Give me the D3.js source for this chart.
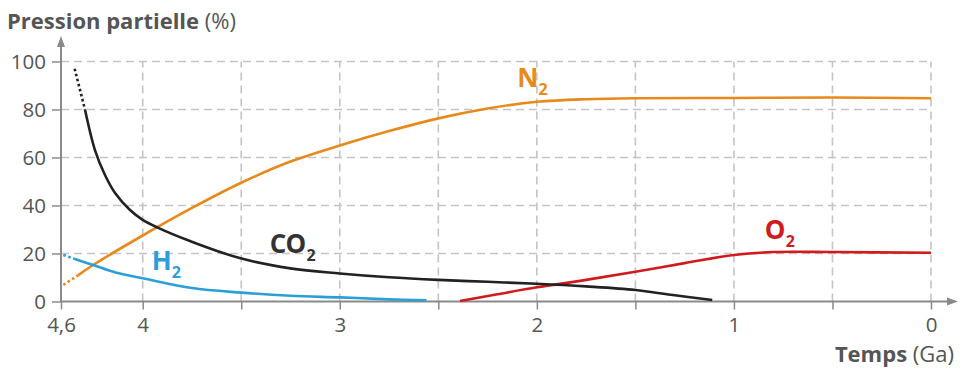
<!DOCTYPE html>
<html><head><meta charset="utf-8">
<script src="https://cdn.jsdelivr.net/npm/d3@7/dist/d3.min.js"></script>
<style>
html,body{margin:0;padding:0;background:#fff;}
svg{display:block;font-family:"Open Sans",sans-serif;}
</style></head>
<body><svg id="c" width="971" height="379"></svg>
<script>
// ---- data (time in Ga, partial pressure in %) ----
const yTicks = [0, 20, 40, 60, 80, 100];
const xTicks = [4.6, 4, 3.5, 3, 2.5, 2, 1.5, 1, 0.5, 0];
const xLabelTicks = [4.6, 4, 3, 2, 1, 0];
const gridX = [4, 3.5, 3, 2.5, 2, 1.5, 1, 0.5, 0];
const gridY = [20, 40, 60, 80, 100];

const co2Dotted = [[4.50, 97], [4.424, 80]];
const co2 = [[4.424, 80], [4.35, 63], [4.277, 52.7], [4.203, 45.2], [4.093, 38.1], [4.0, 34], [3.924, 30.8], [3.76, 25.2], [3.508, 18.1], [3.25, 13.8], [3.0, 11.7], [2.75, 10.1], [2.5, 9], [2.25, 8.2], [2.0, 7.4], [1.75, 6.3], [1.5, 4.8], [1.32, 2.8], [1.11, 0.6]];
const n2Dotted = [[4.583, 6.9], [4.473, 11]];
const n2 = [[4.473, 11], [4.364, 15.2], [4.0, 27.5], [3.75, 39], [3.5, 49.5], [3.25, 58.3], [3.0, 65], [2.75, 71], [2.5, 76.3], [2.25, 80.4], [2.0, 83.2], [1.75, 84.3], [1.5, 84.7], [1.0, 84.8], [0.5, 85], [0, 84.7]];
const h2Dotted = [[4.583, 19.4], [4.498, 17.7]];
const h2 = [[4.498, 17.7], [4.364, 15.2], [4.2, 12.1], [4.0, 9.7], [3.75, 5.6], [3.5, 3.7], [3.25, 2.4], [3.0, 1.7], [2.75, 0.9], [2.56, 0.5]];
const o2 = [[2.39, 0.2], [2.2, 3], [2.0, 5.9], [1.75, 9], [1.5, 12.4], [1.25, 16], [1.0, 19.4], [0.8, 20.6], [0.5, 20.6], [0, 20.3]];

const labels = [
  {t: "N", x: 2.10, y: 89.4, c: "#e8891c"},
  {t: "O", x: 0.843, y: 26, c: "#d11a1e"},
  {t: "H", x: 3.954, y: 13.1, c: "#2b9fd8"},
  {t: "CO", x: 3.355, y: 20.2, c: "#333333"}
];

// ---- scales ----
const x = d3.scaleLinear().domain([4.6, 4, 0]).range([61, 142.7, 931]);
const y = d3.scaleLinear().domain([0, 100]).range([301.5, 61.5]);

const svg = d3.select("#c");
const axisCol = "#8a8a8a", gridCol = "#c4c4c4", textCol = "#555";
const font = "'Open Sans',sans-serif";

// grid
svg.append("g").selectAll("line").data(gridY).join("line")
  .attr("x1", x(4.6)).attr("x2", x(0)).attr("y1", d => y(d)).attr("y2", d => y(d))
  .attr("stroke", gridCol).attr("stroke-width", 1.6).attr("stroke-dasharray", "8,5");
svg.append("g").selectAll("line").data(gridX).join("line")
  .attr("x1", d => x(d)).attr("x2", d => x(d)).attr("y1", y(0)).attr("y2", y(100))
  .attr("stroke", gridCol).attr("stroke-width", 1.6).attr("stroke-dasharray", "8,5");

// axes
const ya = svg.append("g").attr("transform", `translate(${x(4.6)},0)`)
  .call(d3.axisLeft(y).tickValues(yTicks).tickSize(9).tickPadding(6));
const xa = svg.append("g").attr("transform", `translate(0,${y(0)})`)
  .call(d3.axisBottom(x).tickValues(xTicks).tickSize(8).tickPadding(8)
    .tickFormat(d => xLabelTicks.includes(d) ? String(d).replace(".", ",") : ""));
[ya, xa].forEach(g => {
  g.select(".domain").remove();
  g.selectAll(".tick line").attr("stroke", axisCol).attr("stroke-width", 1.5);
  g.selectAll(".tick text").attr("fill", textCol).attr("font-size", 20.5)
    .attr("font-family", font);
});
ya.selectAll(".tick text").attr("x", -15);

// axis lines with arrows
svg.append("line").attr("x1", x(4.6)).attr("x2", x(4.6)).attr("y1", y(0)).attr("y2", 44)
  .attr("stroke", axisCol).attr("stroke-width", 2);
svg.append("path").attr("d", `M${x(4.6)},36 L${x(4.6)-4},47 L${x(4.6)+4},47 Z`).attr("fill", axisCol);
svg.append("line").attr("x1", x(4.6)).attr("x2", 950).attr("y1", y(0)).attr("y2", y(0))
  .attr("stroke", axisCol).attr("stroke-width", 2);
svg.append("path").attr("d", `M958,${y(0)} L947,${y(0)-4} L947,${y(0)+4} Z`).attr("fill", axisCol);

// curves
const line = d3.line().x(d => x(d[0])).y(d => y(d[1])).curve(d3.curveCatmullRom.alpha(0.5));
function draw(data, col, dotted) {
  svg.append("path").datum(data).attr("d", line).attr("fill", "none")
    .attr("stroke", col).attr("stroke-width", 2.6)
    .attr("stroke-dasharray", dotted ? "2.6,2.6" : null);
}
draw(n2, "#e8891c"); draw(n2Dotted, "#e8891c", true);
draw(h2, "#2b9fd8"); draw(h2Dotted, "#2b9fd8", true);
draw(o2, "#d11a1e");
draw(co2, "#222222"); draw(co2Dotted, "#222222", true);

// series labels
labels.forEach(l => {
  const t = svg.append("text").attr("x", x(l.x)).attr("y", y(l.y))
    .attr("fill", l.c).attr("font-weight", 700).attr("font-size", 26)
    .attr("font-family", font).attr("letter-spacing", -0.8);
  t.append("tspan").text(l.t);
  t.append("tspan").attr("font-size", 16).attr("dx", 1).attr("dy", 8).text("2");
});

// titles
const tt = svg.append("text").attr("x", 7).attr("y", 29).attr("fill", textCol).attr("font-size", 22)
  .attr("font-family", font);
tt.append("tspan").attr("font-weight", 700).text("Pression partielle");
tt.append("tspan").text(" (%)");
const xt = svg.append("text").attr("x", 954).attr("y", 362).attr("text-anchor", "end")
  .attr("fill", textCol).attr("font-size", 22).attr("font-family", font);
xt.append("tspan").attr("font-weight", 700).text("Temps");
xt.append("tspan").text(" (Ga)");
</script></body></html>
